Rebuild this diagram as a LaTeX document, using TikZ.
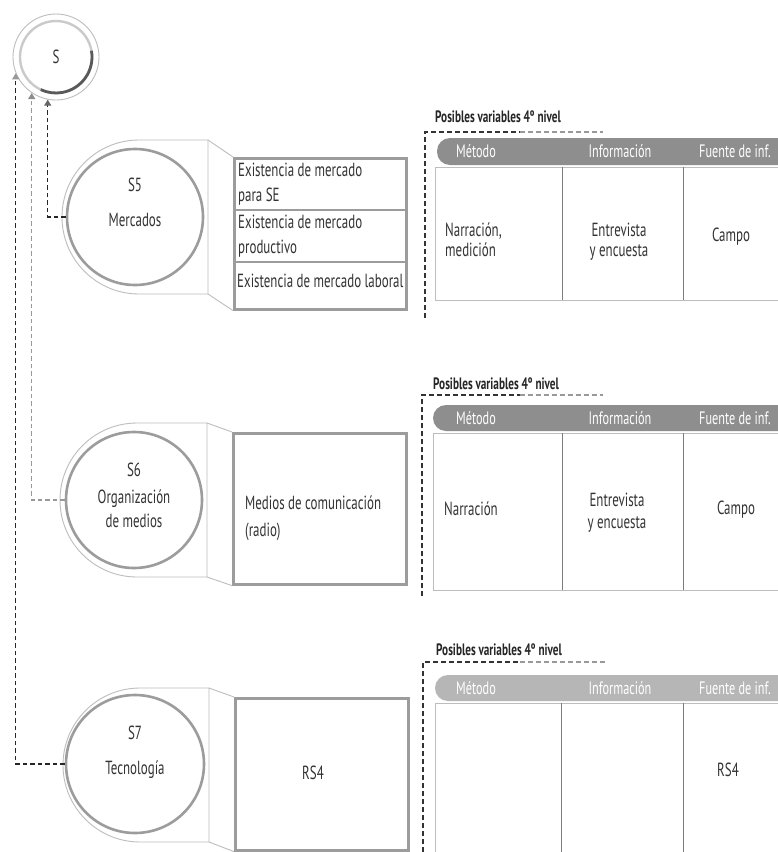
\documentclass[tikz,border=0pt]{standalone}
\usepackage{fontspec}
\setmainfont{PT Sans}[FakeStretch=0.68]
\usetikzlibrary{arrows.meta,calc}
\definecolor{cgray}{HTML}{9C9C9C}
\definecolor{lgray}{HTML}{BDBDBD}
\definecolor{hbar}{HTML}{8E8E8E}
\definecolor{hbarl}{HTML}{B6B6B6}
\definecolor{divc}{HTML}{7C7C7C}
\definecolor{dtext}{HTML}{333333}
\tikzset{
  body/.style={font=\fontsize{19}{24}\selectfont, text=dtext, inner sep=0},
  ttl/.style={font=\bfseries\fontsize{16.5}{18}\selectfont, text=black!85, inner sep=0, anchor=west},
  hdr/.style={font=\fontsize{18}{20}\selectfont, text=white, inner sep=0},
  innerc/.style={circle, draw=cgray, line width=2.6pt, minimum size=136pt, inner sep=0},
  outline/.style={draw=lgray, line width=0.9pt},
  boxs/.style={draw=cgray, line width=2.6pt, anchor=north west, inner sep=0},
  cellline/.style={draw=lgray, line width=0.9pt},
  divline/.style={draw=divc, line width=1pt},
  ttldash/.style={line width=1.2pt, dash pattern=on 5pt off 3pt},
  conn/.style={line width=1.1pt, dash pattern=on 4.5pt off 3pt}
}
\begin{document}
\begin{tikzpicture}[x=1pt,y=-1pt]
\clip (0,0) rectangle (778,852);
\fill[white] (0,0) rectangle (778,852);

% ---------- S circle ----------
\node[circle, draw=lgray, line width=0.9pt, minimum size=86pt, inner sep=0, font=\fontsize{19}{20}\selectfont, text=dtext] (S) at (56,57) {S};
\draw[lgray!80, line width=2.4pt] (56,57) circle[radius=36pt];
\draw[black!65, line width=2.8pt] (56,57) ++(10:36pt) arc[start angle=10, end angle=-115, radius=36pt];

% ---------- Row S5 ----------
\draw[outline] (208,140) -- (139,140) arc[start angle=90, end angle=270, radius=77pt] -- (208,294) -- cycle;
\node[innerc] (s5) at (135,217) {};
\node[body] (s5a) at (135,185) {S5};
\node[body] (s5b) at (135,220) {Mercados};
\node[boxs, minimum width=172pt, minimum height=151pt] (b5) at (233,157) {};
\draw[outline] (208,140) -- (b5.north west);
\draw[outline] (208,294) -- (b5.south west);
\draw[cgray, line width=1.5pt] (233,210) -- (405,210);
\draw[cgray, line width=1.5pt] (233,262) -- (405,262);
\node[body, anchor=west, align=left, font=\fontsize{19}{25}\selectfont] (b5a) at (238,184) {Existencia de mercado\\para SE};
\node[body, anchor=west, align=left, font=\fontsize{19}{25}\selectfont] (b5b) at (238,236) {Existencia de mercado\\productivo};
\node[body, anchor=west] (b5c) at (237,281) {Existencia de mercado laboral};

% table S5
\node[ttl] (t5) at (435,117) {Posibles variables 4º nivel};
\draw[ttldash, black!80] (425,318) -- (425,132) -- (520,132);
\draw[ttldash, black!40] (520,132) -- (603,132);
\fill[hbar, rounded corners=13pt] (437,138) rectangle (820,165);
\node[hdr] (h5a) at (476,151) {Método};
\node[hdr] (h5b) at (620,151) {Información};
\node[hdr] (h5c) at (735,151) {Fuente de inf.};
\draw[cellline] (435,167) rectangle (820,300);
\draw[divline] (562,167) -- (562,300);
\draw[divline] (683,167) -- (683,300);
\node[body, anchor=west, align=left, font=\fontsize{19}{20}\selectfont] (c5a) at (445,240) {Narración,\\medición};
\node[body, align=center, font=\fontsize{19}{20}\selectfont] (c5b) at (619,242) {Entrevista\\y encuesta};
\node[body] (c5c) at (731,237) {Campo};

% ---------- Row S6 ----------
\draw[outline] (207,423) -- (137,423) arc[start angle=90, end angle=270, radius=77pt] -- (207,577) -- cycle;
\node[innerc] (s6) at (134,500) {};
\node[body] (s6a) at (134,470) {S6};
\node[body, align=center] (s6b) at (134,509) {Organización\\de medios};
\node[boxs, minimum width=173pt, minimum height=151pt] (b6) at (232,432) {};
\draw[outline] (207,423) -- (b6.north west);
\draw[outline] (207,577) -- (b6.south west);
\node[body, anchor=west, align=left, font=\fontsize{19}{27}\selectfont] (b6a) at (245,518) {Medios de comunicación\\(radio)};

% table S6
\node[ttl] (t6) at (433,384) {Posibles variables 4º nivel};
\draw[ttldash, black!80] (422,596) -- (422,395) -- (520,395);
\draw[ttldash, black!40] (520,395) -- (603,395);
\fill[hbar, rounded corners=13pt] (433,405) rectangle (820,431);
\node[hdr] (h6a) at (476,418) {Método};
\node[hdr] (h6b) at (620,418) {Información};
\node[hdr] (h6c) at (735,418) {Fuente de inf.};
\draw[cellline] (433,433) rectangle (820,590);
\draw[divline] (562,433) -- (562,590);
\draw[divline] (683,433) -- (683,590);
\node[body, anchor=west] (c6a) at (444,509) {Narración};
\node[body, align=center, font=\fontsize{19}{22}\selectfont] (c6b) at (617,513) {Entrevista\\y encuesta};
\node[body] (c6c) at (736,510) {Campo};

% ---------- Row S7 ----------
\draw[outline] (209,688) -- (140,688) arc[start angle=90, end angle=270, radius=77pt] -- (209,842) -- cycle;
\node[innerc, minimum size=138pt] (s7) at (135,764) {};
\node[body] (s7a) at (135,733) {S7};
\node[body] (s7b) at (135,770) {Tecnología};
\node[boxs, minimum width=173pt, minimum height=152pt] (b7) at (234,697) {};
\draw[outline] (209,688) -- (b7.north west);
\draw[outline] (209,842) -- (b7.south west);
\node[body] (b7a) at (313,773) {RS4};

% table S7
\node[ttl] (t7) at (436,650) {Posibles variables 4º nivel};
\draw[ttldash, black!80] (423,860) -- (423,662) -- (520,662);
\draw[ttldash, black!40] (520,662) -- (607,662);
\fill[hbarl, rounded corners=13pt] (435,675) rectangle (820,701);
\node[hdr] (h7a) at (476,688) {Método};
\node[hdr] (h7b) at (620,688) {Información};
\node[hdr] (h7c) at (735,688) {Fuente de inf.};
\draw[cellline] (435,703) rectangle (820,870);
\draw[divline] (561,703) -- (561,870);
\draw[divline] (683,703) -- (683,870);
\node[body] (c7c) at (728,770) {RS4};

% ---------- connectors ----------
\draw[conn, draw=black!85, -{Triangle[width=7pt,length=6pt,color=black!60,fill=black!60]}] (s5.west) -| (S.259);
\draw[conn, draw=black!40, -{Triangle[width=7pt,length=6pt,color=black!45,fill=black!45]}] (s6.west) -| (S.236);
\draw[conn, draw=black!85, -{Triangle[width=7pt,length=6pt,color=black!40,fill=black!40]}] (s7.west) -| (S.202);
\end{tikzpicture}
\end{document}
